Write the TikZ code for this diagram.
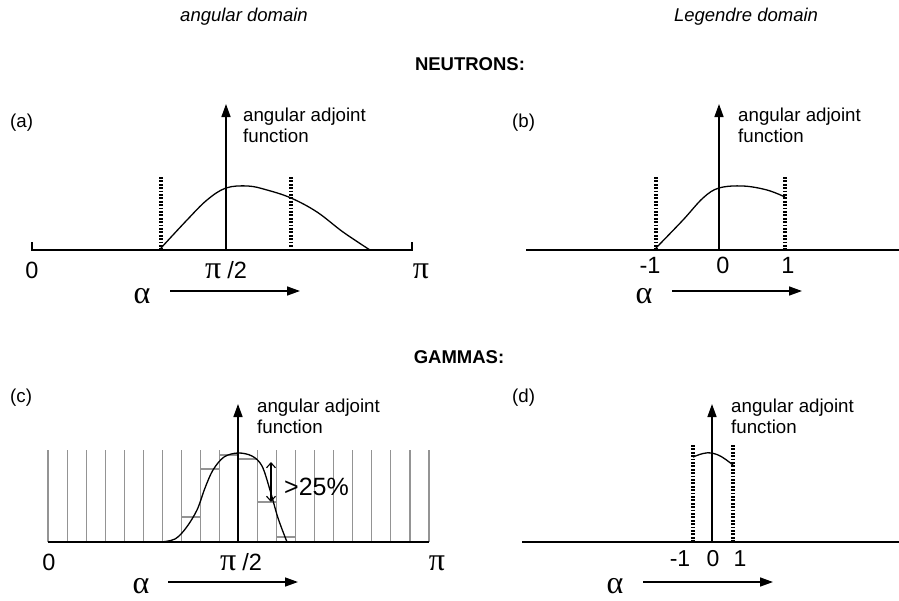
\documentclass[tikz,border=0pt]{standalone}
\usepackage{fontspec}
\setmainfont{Liberation Sans}
\newfontfamily\grk{Liberation Serif}
\usetikzlibrary{arrows.meta}
\newcommand{\gpi}{{\fontsize{32}{34}\selectfont\grk π}}
\newcommand{\gal}{{\fontsize{32}{34}\selectfont\grk α}}
\begin{document}
\begin{tikzpicture}[x=1pt,y=-1pt,
  ax/.style={line width=1.5pt},
  curve/.style={line width=1.3pt},
  arr/.style={line width=1.5pt,-{Triangle[length=13pt,width=9pt]}},
  dots/.style={line width=3.2pt,dash pattern=on 1.8pt off 1.6pt},
  gridln/.style={black!42,line width=1.1pt},
  stepln/.style={black!42,line width=1.5pt},
  lbl/.style={font=\fontsize{18.7}{21}\selectfont,inner sep=0pt,anchor=base west},
  hdr/.style={font=\fontsize{18.5}{21}\selectfont\itshape,inner sep=0pt,anchor=base},
  ttl/.style={font=\fontsize{18.5}{21}\selectfont\bfseries,inner sep=0pt,anchor=base},
  big/.style={font=\fontsize{23.5}{26}\selectfont,inner sep=0pt,anchor=base},
  pct/.style={font=\fontsize{25}{28}\selectfont,inner sep=0pt,anchor=west}]
\useasboundingbox[fill=white] (0,0) rectangle (899,600);

% headers
\node[hdr] (h1) at (244,21) {angular domain};
\node[hdr] (h2) at (746,21) {Legendre domain};
\node[ttl] (neu) at (470,70) {NEUTRONS:};
\node[ttl] (gam) at (459,363) {GAMMAS:};

% ---------- panel (a)
\node[lbl,anchor=west] (pa) at (10,123) {(a)};
\coordinate (aO) at (226,250);
\coordinate (aT) at (226,104);
\draw[ax] (32,242) -- (32,250) -- (412,250) -- (412,242);
\draw[arr] (aO) -- (aT);
\draw[dots] (161,177) -- (161,250);
\draw[dots] (291,177) -- (291,248);
\draw[curve] plot[smooth,tension=0.6] coordinates {(161,248) (187,220) (207,200) (226,188) (248,186) (267,190) (291,198) (317,212) (343,232) (370,250)};
\node[lbl] (aL1) at (243,121) {angular adjoint};
\node[lbl] (aL2) at (243,142) {function};
\node[big] (a0) at (32,278) {0};
\node[big,anchor=base west] (apih) at (205,278) {\gpi\hspace{6pt}/2};
\node[big] (api) at (421,278) {\gpi};
\node[big] (aal) at (142,303) {\gal};
\coordinate (aA1) at (170,291);
\coordinate (aA2) at (300,291);
\draw[arr] (aA1) -- (aA2);

% ---------- panel (b)
\node[lbl,anchor=west] (pb) at (512,123) {(b)};
\coordinate (bO) at (719,250);
\coordinate (bT) at (719,104);
\draw[ax] (526,250) -- (899,250);
\draw[arr] (bO) -- (bT);
\draw[dots] (656,177) -- (656,250);
\draw[dots] (785,177) -- (785,250);
\draw[curve] plot[smooth,tension=0.6] coordinates {(656,248) (683,220) (703,198) (719,188) (743,186) (767,190) (785,197)};
\node[lbl] (bL1) at (738,121) {angular adjoint};
\node[lbl] (bL2) at (738,142) {function};
\node[big] (bm1) at (650,273) {-1};
\node[big] (b0) at (723,273) {0};
\node[big] (b1) at (788,273) {1};
\node[big] (bal) at (644,303) {\gal};
\coordinate (bA1) at (672,291);
\coordinate (bA2) at (802,291);
\draw[arr] (bA1) -- (bA2);

% ---------- panel (c)
\node[lbl,anchor=west] (pc) at (10,398) {(c)};
\foreach \i in {0,...,20} {
  \draw[gridln] ({48+19.05*\i},450) -- ({48+19.05*\i},542);
}
\draw[stepln] (182,517) -- (200,517);
\draw[stepln] (200,469) -- (219,469);
\draw[stepln] (219,455) -- (238,455);
\draw[stepln] (238,459) -- (257,459);
\draw[stepln] (257,502) -- (277,502);
\draw[stepln] (277,537) -- (296,537);
\draw[ax] (48,542) -- (429,542);
\coordinate (cO) at (238,542);
\coordinate (cT) at (238,404);
\draw[arr] (cO) -- (cT);
\draw[curve] plot[smooth,tension=0.55] coordinates {(161,542) (175,539) (186,528) (197,510) (205,488) (213,470) (224,457) (238,453) (252,456) (262,466) (270,490) (278,518) (287,542)};
\coordinate (cD1) at (271,462);
\coordinate (cD2) at (271,502);
\draw[line width=1.1pt,{Straight Barb[length=5pt,width=9pt]}-{Straight Barb[length=5pt,width=9pt]}] (cD1) -- (cD2);
\node[pct] (c25) at (284,487) {>25\%};
\node[lbl] (cL1) at (257,412) {angular adjoint};
\node[lbl] (cL2) at (257,433) {function};
\node[big] (c0) at (49,570) {0};
\node[big,anchor=base west] (cpih) at (220,570) {\gpi\hspace{6pt}/2};
\node[big] (cpi) at (437,570) {\gpi};
\node[big] (cal) at (141,593) {\gal};
\coordinate (cA1) at (168,582);
\coordinate (cA2) at (298,582);
\draw[arr] (cA1) -- (cA2);

% ---------- panel (d)
\node[lbl,anchor=west] (pd) at (512,398) {(d)};
\coordinate (dO) at (712,542);
\coordinate (dT) at (712,404);
\draw[ax] (522,542) -- (899,542);
\draw[arr] (dO) -- (dT);
\draw[dots] (693,445) -- (693,542);
\draw[dots] (733,445) -- (733,542);
\draw[curve] plot[smooth,tension=0.6] coordinates {(693,457) (703,453.5) (712,453) (722,457) (733,465)};
\node[lbl] (dL1) at (731,412) {angular adjoint};
\node[lbl] (dL2) at (731,433) {function};
\node[big,font=\fontsize{23}{25}\selectfont] (dm1) at (680,566) {-1};
\node[big,font=\fontsize{23}{25}\selectfont] (d0) at (713,566) {0};
\node[big,font=\fontsize{23}{25}\selectfont] (d1) at (740,566) {1};
\node[big] (dal) at (615,593) {\gal};
\coordinate (dA1) at (643,582);
\coordinate (dA2) at (773,582);
\draw[arr] (dA1) -- (dA2);
\end{tikzpicture}
\end{document}
